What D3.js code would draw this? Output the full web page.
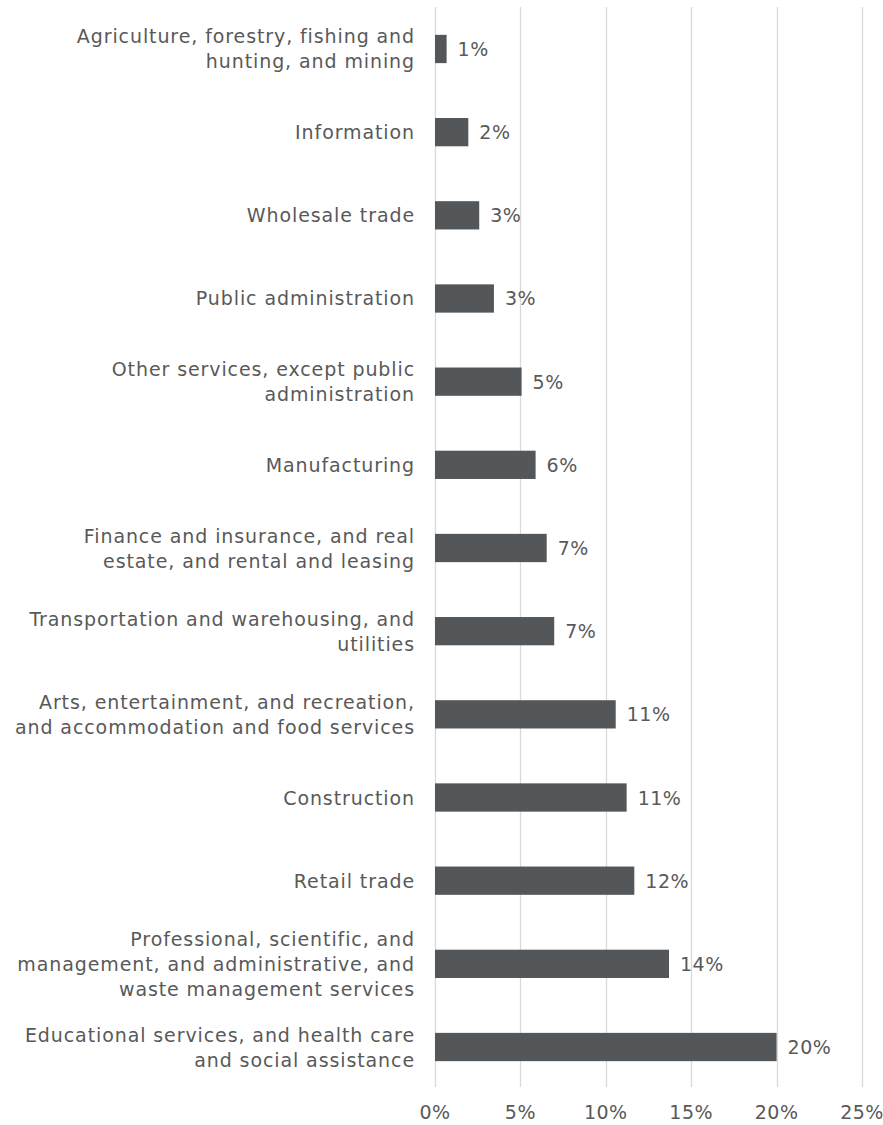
<!DOCTYPE html>
<html>
<head>
<meta charset="utf-8">
<script src="https://cdn.jsdelivr.net/npm/d3@7"></script>
<style>
  html, body { margin: 0; padding: 0; background: #fff; }
  svg { display: block; }
  text { font-family: "DejaVu Sans", Verdana, sans-serif; fill: #595959; }
</style>
</head>
<body>
<svg id="chart" width="883" height="1125"></svg>
<script>
const categories = [
  ["Agriculture, forestry, fishing and", "hunting, and mining"],
  ["Information"],
  ["Wholesale trade"],
  ["Public administration"],
  ["Other services, except public", "administration"],
  ["Manufacturing"],
  ["Finance and insurance, and real", "estate, and rental and leasing"],
  ["Transportation and warehousing, and", "utilities"],
  ["Arts, entertainment, and recreation,", "and accommodation and food services"],
  ["Construction"],
  ["Retail trade"],
  ["Professional, scientific, and", "management, and administrative, and", "waste management services"],
  ["Educational services, and health care", "and social assistance"]
];
const values = [0.68, 1.95, 2.59, 3.45, 5.07, 5.89, 6.54, 6.98, 10.58, 11.22, 11.67, 13.7, 20.0];
const xTicks = [0, 5, 10, 15, 20, 25];

const svg = d3.select("#chart");
const x = d3.scaleLinear().domain([0, 25]).range([435, 862]);
const ids = categories.map((c, i) => i);
const y = d3.scaleBand().domain(ids).range([7.4, 1088.6]).paddingInner(0.66).paddingOuter(0.33);

// gridlines
svg.append("g").selectAll("line").data(xTicks).join("line")
  .attr("x1", d => Math.round(x(d)) + 0.5).attr("x2", d => Math.round(x(d)) + 0.5)
  .attr("y1", 7).attr("y2", 1087)
  .attr("stroke", "#d9d9d9").attr("stroke-width", 1.3);

// tick labels
svg.append("g").selectAll("text").data(xTicks).join("text")
  .attr("x", d => x(d)).attr("y", 1112)
  .attr("text-anchor", "middle").attr("dominant-baseline", "central")
  .attr("font-size", 19).attr("letter-spacing", 0.5)
  .text(d => d + "%");

// bars
svg.append("g").selectAll("rect").data(values).join("rect")
  .attr("x", x(0)).attr("y", (d, i) => y(i))
  .attr("width", d => x(d) - x(0)).attr("height", y.bandwidth())
  .attr("fill", "#53575a");

// value labels
svg.append("g").selectAll("text").data(values).join("text")
  .attr("x", d => x(d) + 11).attr("y", (d, i) => y(i) + y.bandwidth() / 2)
  .attr("dominant-baseline", "central")
  .attr("font-size", 19).attr("letter-spacing", 0.5)
  .text(d => Math.round(d) + "%");

// category labels
const lh = 25;
const labels = svg.append("g").selectAll("text").data(categories).join("text")
  .attr("text-anchor", "end").attr("font-size", 19).attr("letter-spacing", 0.9)
  .attr("y", (d, i) => y(i) + y.bandwidth() / 2);
labels.each(function(d, i) {
  const t = d3.select(this);
  const cy = y(i) + y.bandwidth() / 2;
  const n = d.length;
  d.forEach((line, k) => {
    t.append("tspan").attr("x", 415)
      .attr("y", cy + (k - (n - 1) / 2) * lh)
      .attr("dominant-baseline", "central")
      .text(line);
  });
});
</script>
</body>
</html>
